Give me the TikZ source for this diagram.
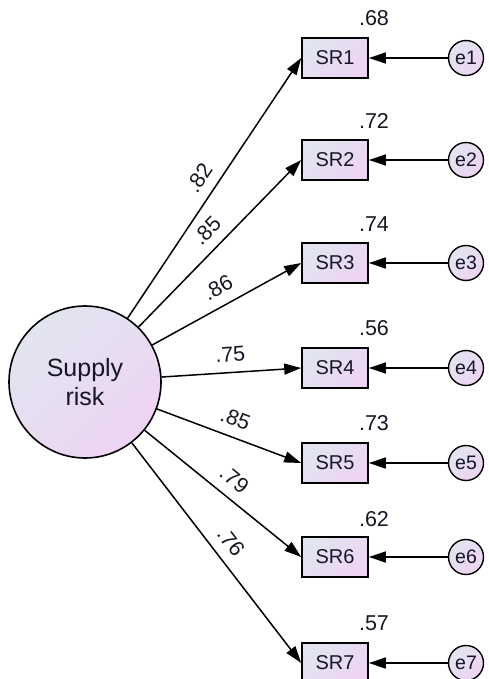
\documentclass[tikz,border=0pt]{standalone}
\usepackage{fontspec}
\setmainfont{Liberation Sans}
\usetikzlibrary{arrows.meta}
\definecolor{shadeA}{RGB}{226,229,240}
\definecolor{shadeB}{RGB}{237,212,242}
\definecolor{ink}{RGB}{22,22,36}

\begin{document}
\begin{tikzpicture}[x=1pt,y=-1pt,
  gradfill/.style={top color=shadeA, bottom color=shadeB, shading angle=45},
  latent/.style={circle, draw=black, line width=1.6pt, gradfill, minimum size=152pt,
    inner sep=0pt, align=center, text=ink, font=\fontsize{25}{29}\selectfont},
  obs/.style={rectangle, draw=black, line width=1.6pt, gradfill, minimum width=66pt,
    minimum height=40pt, inner sep=0pt, text=ink, font=\fontsize{20}{24}\selectfont},
  err/.style={circle, draw=black, line width=1.4pt, gradfill, minimum size=35pt,
    inner sep=0pt, text=ink, font=\fontsize{19.5}{22}\selectfont},
  est/.style={inner sep=0pt, text=ink, font=\fontsize{21.5}{24}\selectfont},
  link/.style={draw=black, line width=1.5pt, -{Triangle[length=17pt,width=11pt]}},
  coef/.style={midway, sloped, above=10pt, est}
]
\useasboundingbox (0,0) rectangle (489,679);

% latent factor
\node[latent] (risk) at (85,382) {Supply\\risk};

% indicators
\node[obs] (sr1) at (335,58)  {SR1};
\node[obs] (sr2) at (335,160) {SR2};
\node[obs] (sr3) at (335,263) {SR3};
\node[obs] (sr4) at (335,368) {SR4};
\node[obs] (sr5) at (335,463) {SR5};
\node[obs] (sr6) at (335,557) {SR6};
\node[obs] (sr7) at (335,663) {SR7};

% error terms
\node[err] (e1) at (466,58)  {e1};
\node[err] (e2) at (466,160) {e2};
\node[err] (e3) at (466,263) {e3};
\node[err] (e4) at (466,368) {e4};
\node[err] (e5) at (466,463) {e5};
\node[err] (e6) at (466,557) {e6};
\node[err] (e7) at (466,663) {e7};

% squared multiple correlations
\node[est] (r1) at (374,18)  {.68};
\node[est] (r2) at (374,121) {.72};
\node[est] (r3) at (374,224) {.74};
\node[est] (r4) at (374,328) {.56};
\node[est] (r5) at (374,423) {.73};
\node[est] (r6) at (374,519) {.62};
\node[est] (r7) at (374,623) {.57};

% factor loadings
\draw[link] (risk) -- (sr1.west) node[coef] {.82};
\draw[link] (risk) -- (sr2.west) node[coef] {.85};
\draw[link] (risk) -- (sr3.west) node[coef] {.86};
\draw[link] (risk) -- (sr4.west) node[coef] {.75};
\draw[link] (risk) -- (sr5.west) node[coef] {.85};
\draw[link] (risk) -- (sr6.west) node[coef] {.79};
\draw[link] (risk) -- (sr7.west) node[coef] {.76};

% error paths
\draw[link] (e1) -- (sr1);
\draw[link] (e2) -- (sr2);
\draw[link] (e3) -- (sr3);
\draw[link] (e4) -- (sr4);
\draw[link] (e5) -- (sr5);
\draw[link] (e6) -- (sr6);
\draw[link] (e7) -- (sr7);
\end{tikzpicture}
\end{document}
